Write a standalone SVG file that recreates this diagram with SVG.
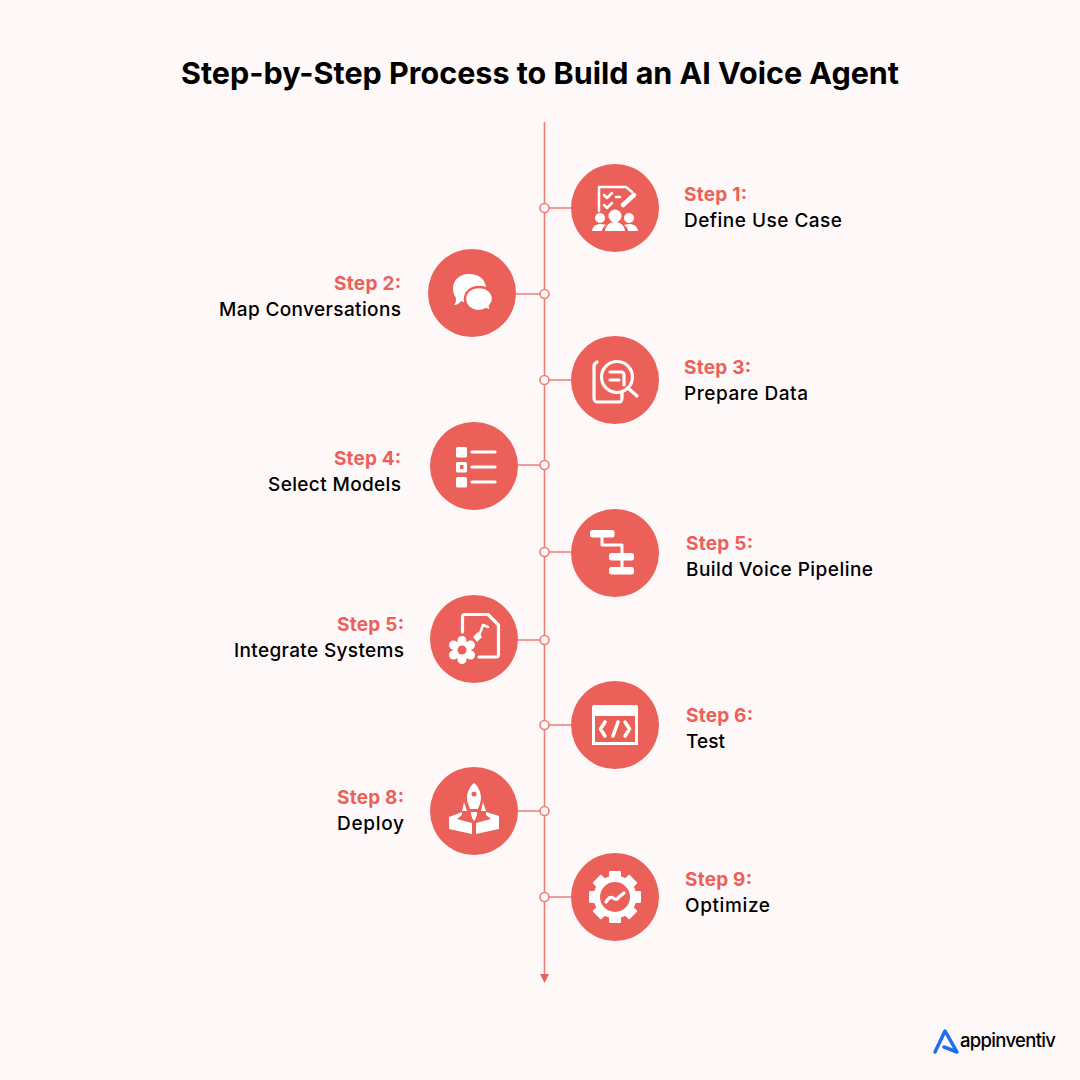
<svg xmlns="http://www.w3.org/2000/svg" xmlns:xlink="http://www.w3.org/1999/xlink" width="1080" height="1080" viewBox="0 0 1080 1080">
<style>
text{font-family:"Inter","Liberation Sans",sans-serif}
.title{font-size:30.500px;font-weight:700;fill:#000}
.s{font-size:19px;font-weight:700;fill:#ec605a}
.d{font-size:19px;font-weight:500;fill:#000}
.c{fill:#ec605a}
.w{fill:#fff}
.o{fill:none;stroke:#fff;stroke-width:3.200;stroke-linecap:round;stroke-linejoin:round}
.ln{stroke:#ec7f7a;stroke-width:1.600;fill:none}
.dot{fill:#fff8f8;stroke:#ec7f7a;stroke-width:1.600}
</style>
<rect width="1080" height="1080" fill="#fff8f8"/>
<text class="title" x="181" y="84" textLength="718" lengthAdjust="spacing">Step-by-Step Process to Build an AI Voice Agent</text>
<g id="connectors">
<path class="ln" d="M544.500 122V976M544.500 208H571M516 294H544.500M544.500 380H571M518 465H544.500M544.500 552H571M518 640H544.500M544.500 725H571M518 811H544.500M544.500 897H571"/>
<path d="M540 974H549L544.500 983Z" fill="#ec605a"/>
<circle class="dot" cx="544.500" cy="208" r="4.500"/><circle class="dot" cx="544.500" cy="294" r="4.500"/><circle class="dot" cx="544.500" cy="380" r="4.500"/><circle class="dot" cx="544.500" cy="465" r="4.500"/><circle class="dot" cx="544.500" cy="552" r="4.500"/><circle class="dot" cx="544.500" cy="640" r="4.500"/><circle class="dot" cx="544.500" cy="725" r="4.500"/><circle class="dot" cx="544.500" cy="811" r="4.500"/><circle class="dot" cx="544.500" cy="897" r="4.500"/>
</g>
<g id="step1">
<circle class="c" cx="615" cy="208" r="44"/>
<path class="o" style="stroke-width:2.500" d="M599 211V187H626L632 192"/>
<path class="o" style="stroke-width:2.500" d="M604 195L607 198L612 193M604 205L607 208L612 203M616 197H620"/>
<path class="o" style="stroke-width:4.500" d="M623 205L634 195"/>
<circle class="w" cx="615" cy="216" r="6.500"/><circle class="w" cx="600" cy="218" r="5"/><circle class="w" cx="629" cy="218" r="5"/>
<path class="w" d="M605 231C606 219 624 219 625 231ZM592 231C593 224 600 223 606 225C603 227 602 229 602 231ZM638 231C637 224 630 223 624 225C627 227 628 229 628 231Z"/>
<text class="s" x="684" y="201" textLength="63" lengthAdjust="spacing">Step 1:</text>
<text class="d" x="684" y="227" textLength="158" lengthAdjust="spacing">Define Use Case</text>
</g>
<g id="step2">
<circle class="c" cx="472" cy="293" r="44"/>
<path class="w" d="M469 274C479 274 486 280 486 288C486 296 479 303 469 303C466 303 463 302 461 301C459 304 456 305 454 305C456 303 456 300 456 298C454 295 453 292 453 288C453 280 460 274 469 274Z"/>
<path class="w" stroke="#ec605a" stroke-width="2.500" d="M479 287C487 287 493 292 493 299C493 302 492 304 490 306C490 308 491 310 493 311C490 311 488 310 486 309C484 310 482 311 479 311C471 311 465 306 465 299C465 292 471 287 479 287Z"/>
<text class="s" x="334" y="290" textLength="67" lengthAdjust="spacing">Step 2:</text>
<text class="d" x="219" y="316" textLength="182" lengthAdjust="spacing">Map Conversations</text>
</g>
<g id="step3">
<circle class="c" cx="615" cy="380" r="44"/>
<path class="o" d="M597 362C595 363 594 364 594 367V398C594 401 595 402 598 402H619C621 402 622 401 622 398V393"/>
<circle class="o" cx="617" cy="377" r="15.500"/>
<path class="o" d="M610 372H621C623 372 624 373 624 375V385M610 380H619"/>
<path class="o" d="M628 388L637 396"/>
<text class="s" x="684" y="374" textLength="67" lengthAdjust="spacing">Step 3:</text>
<text class="d" x="684" y="400" textLength="124" lengthAdjust="spacing">Prepare Data</text>
</g>
<g id="step4">
<circle class="c" cx="474" cy="466" r="44"/>
<rect class="w" x="456" y="447" width="11" height="10.500" rx="1.500"/>
<rect class="w" x="456" y="462" width="11" height="10.500" rx="1.500"/>
<rect class="c" x="460" y="465" width="3.500" height="4"/>
<rect class="w" x="456" y="477" width="11" height="10.500" rx="1.500"/>
<path class="o" d="M472 452H495M472 467H495M472 482H495"/>
<text class="s" x="334" y="465" textLength="67" lengthAdjust="spacing">Step 4:</text>
<text class="d" x="268" y="491" textLength="133" lengthAdjust="spacing">Select Models</text>
</g>
<g id="step5">
<circle class="c" cx="615" cy="553" r="44"/>
<rect class="w" x="590" y="530" width="24.500" height="7.500" rx="2.500"/>
<rect class="w" x="609" y="553" width="25" height="7.500" rx="2.500"/>
<rect class="w" x="609" y="567" width="25" height="7.500" rx="2.500"/>
<path class="o" style="stroke-linecap:butt;stroke-width:3" d="M602 537V545H622V567"/>
<text class="s" x="686" y="550" textLength="67" lengthAdjust="spacing">Step 5:</text>
<text class="d" x="686" y="576" textLength="187" lengthAdjust="spacing">Build Voice Pipeline</text>
</g>
<g id="step5b">
<circle class="c" cx="474" cy="639" r="44"/>
<path class="o" d="M462.500 632V617C462.500 615.500 463.500 614.500 465 614.500H488L498.500 625V655C498.500 656.500 497.500 657 496 657H479"/>
<path class="o" style="stroke-width:2.500" d="M483 625L479 636M483 625L488 627"/>
<path class="w" d="M473 637L478 632L482 637L477 642Z"/>
<circle class="w" cx="462" cy="640.500" r="4.500"/><circle class="w" cx="462" cy="659.500" r="4.500"/><circle class="w" cx="453.500" cy="645" r="4.500"/><circle class="w" cx="470.500" cy="645" r="4.500"/><circle class="w" cx="453.500" cy="655" r="4.500"/><circle class="w" cx="470.500" cy="655" r="4.500"/><circle class="w" cx="462" cy="650" r="9.500"/>
<circle class="c" cx="462" cy="650" r="4.500"/>
<text class="s" x="337" y="631" textLength="67" lengthAdjust="spacing">Step 5:</text>
<text class="d" x="234" y="657" textLength="170" lengthAdjust="spacing">Integrate Systems</text>
</g>
<g id="step6">
<circle class="c" cx="615" cy="725" r="44"/>
<path class="w" fill-rule="evenodd" d="M594 705H636C637 705 638 706 638 707V745H592V707C592 706 593 705 594 705ZM595 716V742H635V716Z"/>
<path class="o" style="stroke-width:3.500" d="M605 722L600.500 729L605 736M625 722L629.500 729L625 736M618 722L613 736"/>
<text class="s" x="686" y="722" textLength="67" lengthAdjust="spacing">Step 6:</text>
<text class="d" x="686" y="748" textLength="39" lengthAdjust="spacing">Test</text>
</g>
<g id="step8">
<circle class="c" cx="474" cy="811" r="44"/>
<path class="w" d="M474 783C478 786 481 792 481 798C481 802 479 806 478 809H470C469 806 467 802 467 798C467 792 470 786 474 783Z"/>
<circle class="c" cx="474" cy="794" r="2.500"/>
<path class="w" d="M464 802L467 811H462ZM483 802L486 811H481Z"/>
<path class="w" d="M471 812H477C477 816 476 818 474 821C472 818 471 816 471 812Z"/>
<path class="w" d="M449 817L462 812V815L457 819L472 823V834L449 829ZM476 823L491 819L486 815V812L499 816V829L476 834Z"/>
<text class="s" x="337" y="804" textLength="67" lengthAdjust="spacing">Step 8:</text>
<text class="d" x="337" y="830" textLength="67" lengthAdjust="spacing">Deploy</text>
</g>
<g id="step9">
<circle class="c" cx="615" cy="897" r="44"/>
<defs><rect id="tooth" class="w" x="609" y="871" width="12" height="9" rx="1"/></defs>
<use href="#tooth"/>
<use href="#tooth" transform="rotate(45 615 897)"/><use href="#tooth" transform="rotate(90 615 897)"/><use href="#tooth" transform="rotate(135 615 897)"/><use href="#tooth" transform="rotate(180 615 897)"/><use href="#tooth" transform="rotate(225 615 897)"/><use href="#tooth" transform="rotate(270 615 897)"/><use href="#tooth" transform="rotate(315 615 897)"/>
<circle class="w" cx="615" cy="897" r="21.500"/>
<circle class="c" cx="615" cy="897" r="15"/>
<path class="o" d="M606 902C608 899 610 896 613 898C616 900 617 900 619 897L624 893"/>
<text class="s" x="685" y="886" textLength="67" lengthAdjust="spacing">Step 9:</text>
<text class="d" x="685" y="912" textLength="85" lengthAdjust="spacing">Optimize</text>
</g>
<g id="logo">
<path d="M935 1052L945 1031L957 1052L944 1047" fill="none" stroke="#1e6ff0" stroke-width="3.500" stroke-linecap="round" stroke-linejoin="round"/>
<text x="960" y="1047" font-size="18.500" font-weight="500" fill="#000" textLength="96" lengthAdjust="spacing">appinventiv</text>
</g>
</svg>
